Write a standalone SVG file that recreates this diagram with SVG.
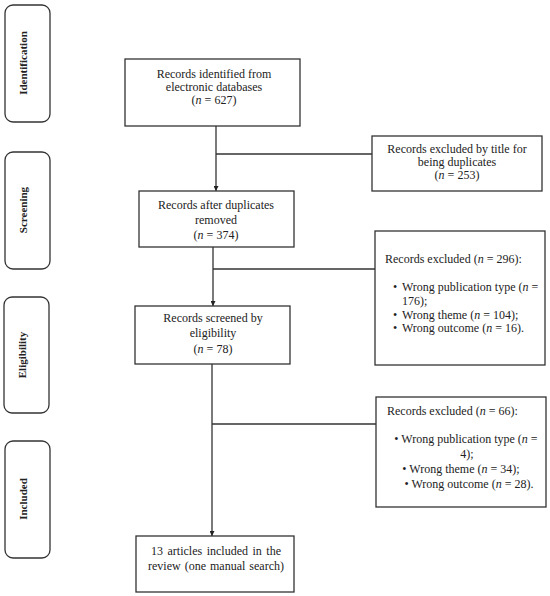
<svg xmlns="http://www.w3.org/2000/svg" width="550" height="596" viewBox="0 0 550 596">
<defs>
<marker id="arr" viewBox="0 0 10 10" refX="10" refY="5" markerWidth="5" markerHeight="5" orient="auto" markerUnits="userSpaceOnUse">
<path d="M0,0 L10,5 L0,10 z" fill="#222"/>
</marker>
<style>
.box{fill:#fff;stroke:#333;stroke-width:1.3}
.side{fill:#fff;stroke:#333;stroke-width:1.3}
.t{font-family:"Liberation Serif","Times New Roman",serif;font-size:12px;fill:#222}
.c{text-anchor:middle}
.s{font-family:"Liberation Serif","Times New Roman",serif;font-size:11px;font-weight:bold;fill:#222;text-anchor:middle}
.ln{stroke:#333;stroke-width:1.3;fill:none}
</style>
</defs>
<rect width="550" height="596" fill="#fff"/>
<g id="side-identification"><rect class="side" x="5" y="5" width="45" height="117" rx="8"/><text class="s" transform="translate(27,63) rotate(-90)">Identification</text></g>
<g id="side-screening"><rect class="side" x="5" y="152" width="45" height="117" rx="8"/><text class="s" transform="translate(27,210) rotate(-90)">Screening</text></g>
<g id="side-eligibility"><rect class="side" x="4" y="297" width="45" height="116" rx="8"/><text class="s" transform="translate(26,355) rotate(-90)">Eligibility</text></g>
<g id="side-included"><rect class="side" x="5" y="441" width="45" height="117" rx="8"/><text class="s" transform="translate(27,499) rotate(-90)">Included</text></g>
<g id="connectors">
<line class="ln" x1="216" y1="126" x2="216" y2="191" marker-end="url(#arr)"/>
<line class="ln" x1="216" y1="154" x2="372" y2="154"/>
<line class="ln" x1="213" y1="247" x2="213" y2="306" marker-end="url(#arr)"/>
<line class="ln" x1="213" y1="269" x2="375" y2="269"/>
<line class="ln" x1="212" y1="364" x2="212" y2="536" marker-end="url(#arr)"/>
<line class="ln" x1="212" y1="424" x2="376" y2="424"/>
</g>
<g id="box-identified"><rect class="box" x="125" y="59" width="175" height="67"/>
<text class="t c" x="214" y="78">Records identified  from</text>
<text class="t c" x="214" y="91">electronic databases</text>
<text class="t c" x="214" y="104">(<tspan font-style="italic">n</tspan> = 627)</text></g>
<g id="box-duplicates-excluded"><rect class="box" x="372" y="136" width="170" height="55"/>
<text class="t c" x="457" y="153">Records excluded  by title for</text>
<text class="t c" x="457" y="166">being duplicates</text>
<text class="t c" x="457" y="179">(<tspan font-style="italic">n</tspan> = 253)</text></g>
<g id="box-after-duplicates"><rect class="box" x="139" y="191" width="155" height="56"/>
<text class="t c" x="216" y="209">Records after duplicates</text>
<text class="t c" x="216" y="224">removed</text>
<text class="t c" x="216" y="239">(<tspan font-style="italic">n</tspan> = 374)</text></g>
<g id="box-excluded-296"><rect class="box" x="375" y="231" width="170" height="134"/>
<text class="t" x="385" y="263">Records excluded  (<tspan font-style="italic">n</tspan> = 296):</text>
<text class="t" x="393" y="291">•</text><text class="t" x="402" y="291">Wrong publication type (<tspan font-style="italic">n</tspan> =</text>
<text class="t" x="402" y="305">176);</text>
<text class="t" x="393" y="319">•</text><text class="t" x="402" y="319">Wrong theme  (<tspan font-style="italic">n</tspan>  = 104);</text>
<text class="t" x="393" y="332">•</text><text class="t" x="402" y="332">Wrong outcome  (<tspan font-style="italic">n</tspan> = 16).</text></g>
<g id="box-screened"><rect class="box" x="135" y="306" width="155" height="58"/>
<text class="t c" x="213" y="322">Records screened by</text>
<text class="t c" x="213" y="337">eligibility</text>
<text class="t c" x="213" y="353">(<tspan font-style="italic">n</tspan> = 78)</text></g>
<g id="box-excluded-66"><rect class="box" x="376" y="397" width="170" height="110"/>
<text class="t" x="387" y="415">Records excluded  (<tspan font-style="italic">n</tspan> = 66):</text>
<text class="t c" x="466" y="443">• Wrong publication type (<tspan font-style="italic">n</tspan> =</text>
<text class="t c" x="467" y="458">4);</text>
<text class="t c" x="461" y="473">• Wrong theme (<tspan font-style="italic">n</tspan> = 34);</text>
<text class="t c" x="469" y="488">• Wrong outcome (<tspan font-style="italic">n</tspan> = 28).</text></g>
<g id="box-included"><rect class="box" x="136" y="536" width="158" height="56"/>
<text class="t c" x="216" y="555" word-spacing="1.5">13 articles included in the</text>
<text class="t c" x="216" y="570" word-spacing="1">review (one manual search)</text></g>
</svg>
